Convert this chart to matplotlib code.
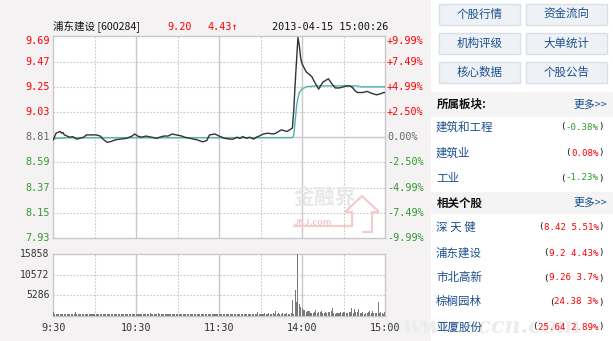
import matplotlib
matplotlib.use('Agg')
import matplotlib.pyplot as plt
from matplotlib.patches import Rectangle, Polygon

# ---------------- data ----------------
stock_title = "浦东建设 [600284]"
last_price = "9.20"
last_change = "4.43↑"
timestamp = "2013-04-15 15:00:26"

prev_close = 8.81
price_ticks = [9.69, 9.47, 9.25, 9.03, 8.81, 8.59, 8.37, 8.15, 7.93]
pct_labels = ['+9.99%', '+7.49%', '+4.99%', '+2.50%', '0.00%',
              '-2.50%', '-4.99%', '-7.49%', '-9.99%']

time_ticks = [0, 60, 120, 180, 240]
time_labels = ['9:30', '10:30', '11:30', '14:00', '15:00']

price_min = [0, 2, 5, 6, 7, 8, 10, 12, 14, 17, 19, 22, 24, 31, 34, 36, 39, 41,
             45, 48, 53, 57, 59, 61, 64, 67, 71, 75, 77, 80, 83, 86, 89, 93, 95,
             99, 104, 108, 111, 113, 117, 120, 124, 128, 130, 133, 135, 137, 140,
             142, 145, 147, 149, 152, 155, 159, 161, 163, 165, 169, 171, 173,
             174, 175, 176, 177, 178, 179, 180, 183, 185, 187, 190, 192, 195,
             199, 202, 204, 207, 210, 213, 216, 218, 220, 224, 227, 231, 234,
             237, 239, 240]
price_val = [8.787, 8.845, 8.86, 8.845, 8.85, 8.83, 8.82, 8.81, 8.815, 8.793,
             8.80, 8.81, 8.83, 8.83, 8.82, 8.793, 8.765, 8.77, 8.787, 8.793,
             8.80, 8.82, 8.838, 8.82, 8.81, 8.82, 8.81, 8.80, 8.81, 8.82, 8.82,
             8.838, 8.83, 8.82, 8.81, 8.80, 8.787, 8.77, 8.78, 8.83, 8.838,
             8.82, 8.80, 8.793, 8.793, 8.81, 8.80, 8.815, 8.80, 8.81, 8.793,
             8.81, 8.82, 8.838, 8.845, 8.838, 8.845, 8.86, 8.874, 8.86, 8.874,
             8.89, 9.05, 9.28, 9.48, 9.68, 9.61, 9.50, 9.45, 9.38, 9.36, 9.34,
             9.27, 9.23, 9.29, 9.32, 9.27, 9.24, 9.24, 9.25, 9.26, 9.25, 9.22,
             9.20, 9.20, 9.21, 9.19, 9.18, 9.19, 9.20, 9.20]

avg_min = [0, 3, 10, 60, 120, 173, 174, 175, 176, 177, 178, 180, 183, 190,
           220, 222, 240]
avg_val = [8.795, 8.80, 8.805, 8.805, 8.805, 8.806, 8.83, 8.95, 9.08, 9.15,
           9.20, 9.23, 9.25, 9.258, 9.258, 9.25, 9.25]

volume = [
    900, 500, 450, 400, 450, 500, 450, 400, 450, 500, 450, 400, 450, 500, 450, 500, 1000, 450, 400, 450,
    500, 450, 400, 450, 500, 450, 400, 450, 500, 450, 500, 550, 450, 400, 450, 500, 600, 450, 400, 450,
    500, 450, 400, 450, 500, 450, 400, 450, 500, 450, 400, 450, 500, 450, 400, 450, 500, 600, 450, 400,
    450, 500, 450, 400, 450, 500, 450, 600, 450, 500, 650, 450, 500, 600, 450, 500, 650, 450, 500, 600,
    450, 500, 600, 450, 400, 450, 500, 450, 400, 600, 450, 500, 450, 400, 450, 500, 600, 450, 400, 450,
    500, 450, 400, 450, 500, 450, 600, 450, 500, 450, 400, 450, 500, 450, 400, 450, 500, 450, 400, 450,
    450, 400, 450, 500, 450, 400, 450, 500, 450, 400, 450, 500, 450, 400, 500, 450, 600, 450, 400, 450,
    500, 450, 600, 450, 500, 450, 400, 550, 900, 450, 500, 600, 450, 700, 500, 450, 800, 500, 600, 700,
    500, 1300, 600, 700, 500, 600, 700, 500, 600, 800, 500, 600, 700, 4100, 600, 6650, 3650, 15858, 3000, 2400,
    2000, 1500, 1500, 1100, 1300, 1300, 700, 800, 700, 1100, 1500, 850, 1100, 900, 1300, 700, 700, 1100, 700, 900,
    1100, 1300, 2100, 700, 450, 700, 700, 700, 1100, 700, 900, 1100, 700, 850, 1100, 900, 2100, 700, 1800, 1100,
    1000, 1800, 700, 850, 1100, 450, 700, 700, 1100, 1300, 700, 1300, 700, 700, 850, 3650, 700, 1100, 700, 600, 900]
vol_ticks = [15858, 10572, 5286]

buttons = ['个股行情', '资金流向', '机构评级', '大单统计', '核心数据', '个股公告']
sector_header = '所属板块:'
sectors = ['建筑和工程', '建筑业', '工业']
sector_vals = ['-0.38%', '0.08%', '-1.23%']
related_header = '相关个股'
related = ['深 天 健', '浦东建设', '市北高新', '棕榈园林', '亚厦股份']
related_vals = ['8.42 5.51%', '9.2 4.43%', '9.26 3.7%', '24.38 3%', '25.64 2.89%']
more_text = '更多>>'

# ---------------- styling ----------------
plt.rcParams['font.family'] = ['Noto Sans CJK SC', 'DejaVu Sans']
MONO = ['DejaVu Sans Mono', 'Noto Sans CJK SC']
RED = '#ff0000'
GREEN = '#2f9a2f'
GRAY = '#666666'
LINK = '#1d4f8e'
GRID = '#c8c8c8'

W, H = 613, 341
fig = plt.figure(figsize=(W / 100, H / 100), dpi=100)
fig.patch.set_facecolor('#f4f2f2')


def fr(x0, y0, x1, y1):
    return [x0 / W, 1 - y1 / H, (x1 - x0) / W, (y1 - y0) / H]


def style_axes(ax):
    ax.set_facecolor('white')
    for s in ax.spines.values():
        s.set_color(GRID)
        s.set_linewidth(1.0)
    ax.set_xticks([])
    ax.set_yticks([])
    ax.set_xlim(0, 240)
    for m in [30, 90, 150, 210]:
        ax.axvline(m, color=GRID, lw=0.8, ls=(0, (1.5, 1.5)), zorder=0)
    for m in [60, 120, 180]:
        ax.axvline(m, color=GRID, lw=1.0, zorder=0)


# ---------------- price panel ----------------
axp = fig.add_axes(fr(53.3, 36.4, 385, 238))
style_axes(axp)
axp.set_ylim(price_ticks[-1], price_ticks[0])
for lv in price_ticks[1:-1]:
    if abs(lv - prev_close) < 1e-9:
        axp.axhline(lv, color=GRID, lw=1.0, zorder=0)
    else:
        axp.axhline(lv, color=GRID, lw=0.8, ls=(0, (1.5, 1.5)), zorder=0)

ytr = axp.get_yaxis_transform()
for i, (lv, pl) in enumerate(zip(price_ticks, pct_labels)):
    if lv > prev_close + 1e-9:
        c = RED
    elif lv < prev_close - 1e-9:
        c = GREEN
    else:
        c = GRAY
    va = 'top' if i == 0 else 'center'
    axp.text(-0.011, lv, f'{lv:.2f}', transform=ytr, ha='right', va=va,
             color=c, fontsize=7.3, family=MONO)
    axp.text(1.006, lv, pl, transform=ytr, ha='left', va=va,
             color=c, fontsize=7.3, family=MONO, clip_on=False)

# watermark in price panel
axp.text(0.725, 0.2, '金融界', transform=axp.transAxes, fontsize=15,
         color='#e8e8e8', fontweight='bold', ha='left', va='center', zorder=1)
axp.text(0.725, 0.075, 'JRJ.com', transform=axp.transAxes, fontsize=6.5,
         color='#f3cccc', fontstyle='italic', fontweight='bold', ha='left',
         va='center', zorder=1)

axp.plot(avg_min, avg_val, color='#52b3ab', lw=1.0, zorder=3)
axp.plot(price_min, price_val, color='#333333', lw=1.0, zorder=4)

# ---------------- volume panel ----------------
axv = fig.add_axes(fr(53.3, 254, 385, 316))
style_axes(axv)
axv.set_ylim(0, vol_ticks[0])
for v in vol_ticks[1:]:
    axv.axhline(v, color=GRID, lw=0.8, ls=(0, (1.5, 1.5)), zorder=0)
axv.bar(range(len(volume)), volume, width=0.75, color='#7a7a7a', zorder=3)
ytv = axv.get_yaxis_transform()
for v in vol_ticks:
    axv.text(-0.011, v, str(v), transform=ytv, ha='right', va='center',
             color='#333333', fontsize=7.0, family=MONO)
xtv = axv.get_xaxis_transform()
for m, lab in zip(time_ticks, time_labels):
    axv.text(m, -0.2, lab, transform=xtv, ha='center', va='center',
             color='#333333', fontsize=7.3, family=MONO, clip_on=False)

# ---------------- overlay (texts & right panel) ----------------
ov = fig.add_axes([0, 0, 1, 1])
ov.set_xlim(0, W)
ov.set_ylim(H, 0)
ov.axis('off')
ov.patch.set_visible(False)

# arrow watermark (pink outline)
arrow = Polygon([(293, 226), (352, 226), (352, 212), (345, 212), (362, 196),
                 (379, 212), (372, 212), (372, 232), (362, 232)],
                closed=False, fill=False, edgecolor='#f3cccc', lw=1.6, zorder=1)
ov.add_patch(arrow)

# title row
ov.text(53, 27, stock_title, ha='left', va='center', fontsize=7.6,
        color='#111111', family=['Noto Sans CJK SC', 'DejaVu Sans'])
ov.text(167, 27, last_price, ha='left', va='center', fontsize=7.3,
        color=RED, family=MONO)
ov.text(207, 27, last_change, ha='left', va='center', fontsize=7.3,
        color=RED, family=['DejaVu Sans Mono', 'Noto Sans CJK SC'])
ov.text(388, 27, timestamp, ha='right', va='center', fontsize=7.3,
        color='#111111', family=MONO)

# right panel background
ov.add_patch(Rectangle((431, 0), W - 431, H, facecolor='white',
                       edgecolor='none', zorder=0.5))

# buttons
bx = [(439, 520), (526, 607)]
by = [(4, 25), (33, 54), (62, 83)]
for i, lab in enumerate(buttons):
    r, c = divmod(i, 2)
    x0, x1 = bx[c]
    y0, y1 = by[r]
    ov.add_patch(Rectangle((x0, y0), x1 - x0, y1 - y0, facecolor='#eef2f6',
                           edgecolor='#d9e0e7', lw=1.0, zorder=1))
    ov.text((x0 + x1) / 2, (y0 + y1) / 2, lab, ha='center', va='center',
            fontsize=8.3, color=LINK, zorder=2)

# headers
for (y0, y1), txt in [((92, 117), sector_header), ((192, 214), related_header)]:
    ov.add_patch(Rectangle((431, y0), W - 431, y1 - y0, facecolor='#f4f4f4',
                           edgecolor='none', zorder=1))
    ov.text(437, (y0 + y1) / 2, txt, ha='left', va='center', fontsize=8.3,
            fontweight='bold', color='#111111', zorder=2)
    ov.text(607, (y0 + y1) / 2, more_text, ha='right', va='center',
            fontsize=7.8, color=LINK, zorder=2)

# watermark bottom-right (very faint, behind the rows)
ov.text(402, 327, 'www.sccn.com', ha='left', va='center', fontsize=16,
        fontstyle='italic', fontweight='bold', family='DejaVu Serif',
        color='#ececec', zorder=1.5)


def value_text(y, val):
    c = GREEN if val.startswith('-') else RED
    t = ov.text(604, y, ')', ha='right', va='center', fontsize=6.6,
                color='#111111', family=MONO, zorder=2)
    t2 = ov.annotate(val, xy=(0, 0.5), xycoords=t, ha='right', va='center',
                     fontsize=6.6, color=c, family=MONO, zorder=2)
    ov.annotate('(', xy=(0, 0.5), xycoords=t2, ha='right', va='center',
                fontsize=6.6, color='#111111', family=MONO, zorder=2)


for y, name, val in zip([127, 153, 178], sectors, sector_vals):
    ov.text(436, y, name, ha='left', va='center', fontsize=8.3, color=LINK,
            zorder=2)
    value_text(y, val)

for y, name, val in zip([227, 253, 278, 302, 327], related, related_vals):
    ov.text(436, y, name, ha='left', va='center', fontsize=8.3, color=LINK,
            zorder=2)
    value_text(y, val)

fig.savefig('out.png', dpi=100, facecolor=fig.get_facecolor())
